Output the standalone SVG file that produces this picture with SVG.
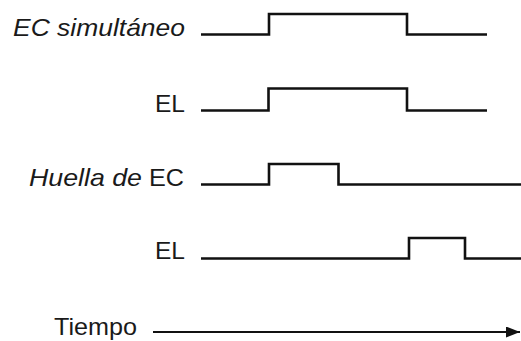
<svg xmlns="http://www.w3.org/2000/svg" width="521" height="341" viewBox="0 0 521 341">
<style>
text{font-family:"Liberation Sans",Arial,sans-serif;font-size:24px;fill:#1a1a1a}
.it{font-style:italic}
.w{fill:none;stroke:#111;stroke-width:2.6;stroke-linejoin:miter;stroke-linecap:butt}
.ax{fill:none;stroke:#111;stroke-width:2.2}
</style>
<defs>
<marker id="ah" markerWidth="14" markerHeight="11" refX="14" refY="5.5" orient="auto" markerUnits="userSpaceOnUse">
<path d="M0,0 L14,5.5 L0,11 Z" fill="#111"/>
</marker>
</defs>
<rect width="521" height="341" fill="#fff"/>
<g id="row-ec-simultaneo">
<text class="it" x="13" y="36" textLength="172" lengthAdjust="spacingAndGlyphs">EC simultáneo</text>
</g>
<g id="row-el-1">
<text x="155" y="112" textLength="30" lengthAdjust="spacingAndGlyphs">EL</text>
</g>
<g id="row-huella">
<text class="it" x="29" y="186" textLength="113" lengthAdjust="spacingAndGlyphs">Huella de</text>
<text x="149" y="186" textLength="35" lengthAdjust="spacingAndGlyphs">EC</text>
</g>
<g id="row-el-2">
<text x="155" y="259" textLength="30" lengthAdjust="spacingAndGlyphs">EL</text>
</g>
<g id="row-tiempo">
<text x="54" y="335" textLength="83" lengthAdjust="spacingAndGlyphs">Tiempo</text>
</g>
<g id="connectors">
<path class="w" d="M201,34.5 H269 V14 H407 V34.5 H487"/>
<path class="w" d="M201,110.5 H268.5 V88.5 H407 V110.5 H487"/>
<path class="w" d="M201,184.5 H269 V164 H338.5 V184.5 H521"/>
<path class="w" d="M201,258.5 H409 V238 H465 V258.5 H521"/>
<line class="ax" x1="153" y1="332" x2="520" y2="332" marker-end="url(#ah)"/>
</g>
</svg>
